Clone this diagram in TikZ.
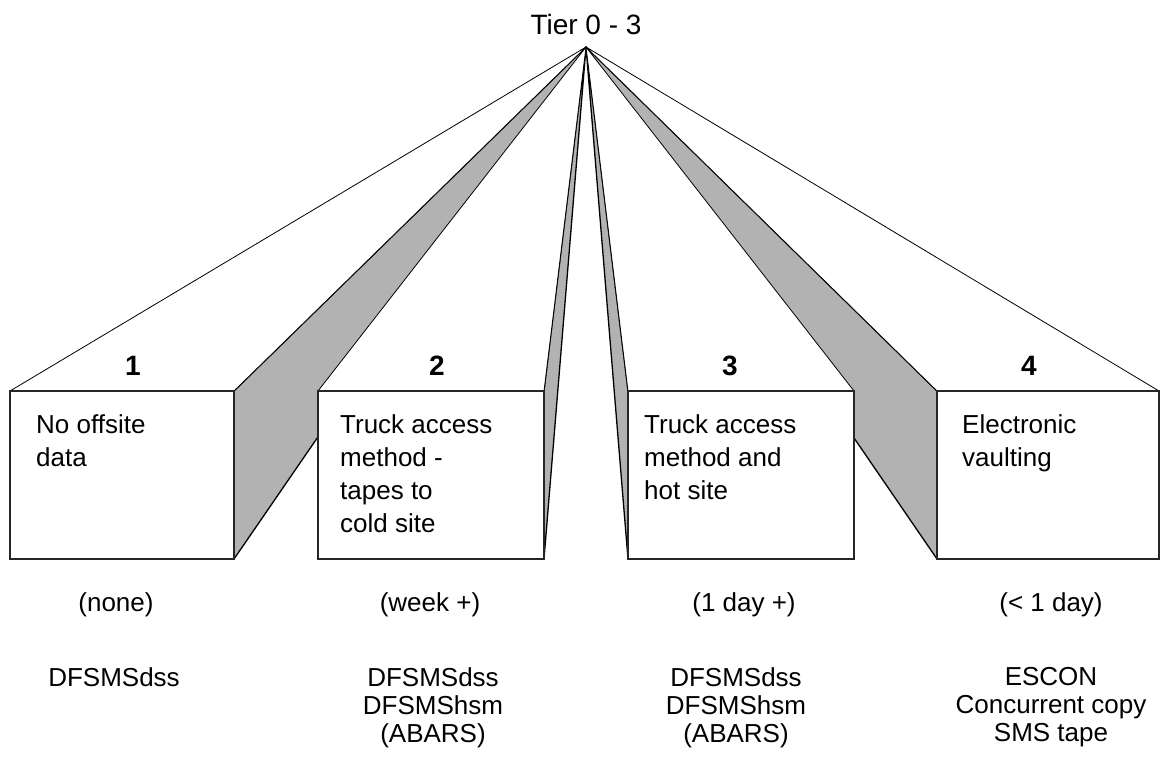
\documentclass[tikz,border=0pt]{standalone}
\usepackage{fontspec}
\setmainfont{Liberation Sans}
\tikzset{
    side/.style={fill=black!30, draw=black, line width=1.3pt, line join=round},
    lid/.style={fill=white, draw=black, line width=0.8pt, line join=round},
    front/.style={fill=white, draw=black!85, line width=1.4pt},
    boxtext/.style={anchor=north west, align=left, inner sep=0pt, font=\fontsize{26}{33}\selectfont},
    lowtext/.style={anchor=north, align=center, inner sep=0pt, font=\fontsize{26}{28}\selectfont},
    tiernum/.style={inner sep=0pt, font=\fontsize{28}{28}\selectfont\bfseries}
}
\begin{document}
\begin{tikzpicture}[x=1pt, y=-1pt]
            \useasboundingbox (0,0) rectangle (1162,757);
            \coordinate (apex) at (586,47);
            \coordinate (tl1) at (10,391);  \coordinate (br1) at (234,559);
            \coordinate (tr1) at (234,391);
            \coordinate (tl2) at (318,391); \coordinate (br2) at (544,559);
            \coordinate (tr2) at (544,391);
            \coordinate (tl3) at (628,391); \coordinate (br3) at (854,559);
            \coordinate (bl3) at (628,559);
            \coordinate (tl4) at (937,391); \coordinate (br4) at (1159,559);
            \coordinate (bl4) at (937,559); \coordinate (tr4) at (1159,391);
            \coordinate (tr3) at (854,391);
            % side faces
            \draw [side] (apex)--(tr1)--(br1)--cycle;
            \draw [side] (apex)--(tr2)--(br2)--cycle;
            \draw [side] (apex)--(tl3)--(bl3)--cycle;
            \draw [side] (apex)--(tl4)--(bl4)--cycle;
            % top faces
            \draw [lid] (apex)--(tl1)--(tr1)--cycle;
            \draw [lid] (apex)--(tl2)--(tr2)--cycle;
            \draw [lid] (apex)--(tl3)--(tr3)--cycle;
            \draw [lid] (apex)--(tl4)--(tr4)--cycle;
            % front faces
            \draw [front] (tl1) rectangle (br1);
            \draw [front] (tl2) rectangle (br2);
            \draw [front] (tl3) rectangle (br3);
            \draw [front] (tl4) rectangle (br4);
            \node [font=\fontsize{28}{28}\selectfont] (tier) at(586,24) {Tier 0 - 3};
            \node [tiernum] (n1) at(133,366) {1};
            \node [tiernum] (n2) at(437,366) {2};
            \node [tiernum] (n3) at(730,366) {3};
            \node [tiernum] (n4) at(1029,366) {4};
            \node [boxtext] (t1) at(36,414) {No offsite\\data};
            \node [boxtext] (t2) at(340,414) {Truck access\\method -\\tapes to\\cold site};
            \node [boxtext] (t3) at(644,414) {Truck access\\method and\\hot site};
            \node [boxtext] (t4) at(962,414) {Electronic\\vaulting};
            \node [lowtext] (w1) at(116,592) {(none)};
            \node [lowtext] (w2) at(430,592) {(week +)};
            \node [lowtext] (w3) at(744,592) {(1 day +)};
            \node [lowtext] (w4) at(1051,592) {(< 1 day)};
            \node [lowtext] (p1) at(114,667) {DFSMSdss};
            \node [lowtext] (p2) at(433,667) {DFSMSdss\\DFSMShsm\\(ABARS)};
            \node [lowtext] (p3) at(736,667) {DFSMSdss\\DFSMShsm\\(ABARS)};
            \node [lowtext] (p4) at(1051,667) {ESCON\\Concurrent copy\\SMS tape};
        \end{tikzpicture}
\end{document}
